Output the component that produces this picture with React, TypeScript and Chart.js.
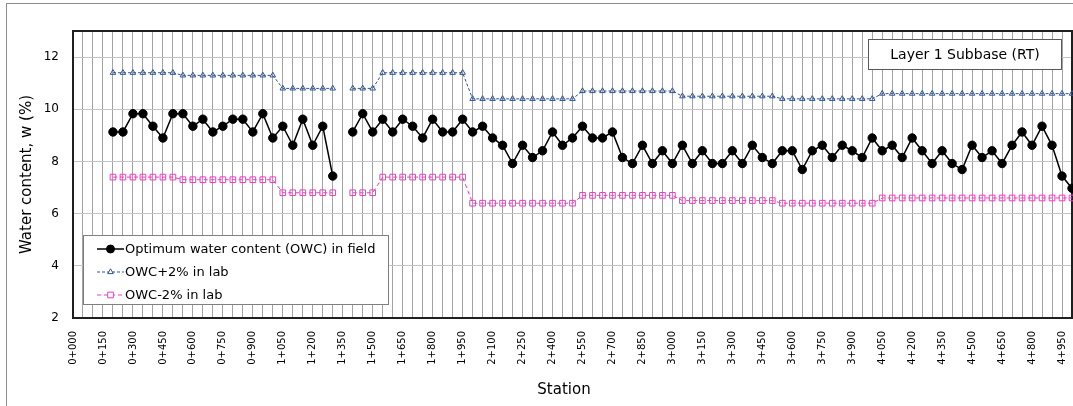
import React, { useEffect, useRef } from 'react';
import { Chart, registerables } from 'chart.js';

Chart.register(...registerables);

const STATIONS = [
  '0+000', '0+050', '0+100', '0+150', '0+200', '0+250', '0+300', '0+350', '0+400', '0+450',
  '0+500', '0+550', '0+600', '0+650', '0+700', '0+750', '0+800', '0+850', '0+900', '0+950',
  '1+000', '1+050', '1+100', '1+150', '1+200', '1+250', '1+300', '1+350', '1+400', '1+450',
  '1+500', '1+550', '1+600', '1+650', '1+700', '1+750', '1+800', '1+850', '1+900', '1+950',
  '2+000', '2+050', '2+100', '2+150', '2+200', '2+250', '2+300', '2+350', '2+400', '2+450',
  '2+500', '2+550', '2+600', '2+650', '2+700', '2+750', '2+800', '2+850', '2+900', '2+950',
  '3+000', '3+050', '3+100', '3+150', '3+200', '3+250', '3+300', '3+350', '3+400', '3+450',
  '3+500', '3+550', '3+600', '3+650', '3+700', '3+750', '3+800', '3+850', '3+900', '3+950',
  '4+000', '4+050', '4+100', '4+150', '4+200', '4+250', '4+300', '4+350', '4+400', '4+450',
  '4+500', '4+550', '4+600', '4+650', '4+700', '4+750', '4+800', '4+850', '4+900', '4+950',
  '5+000',
];

// Optimum water content (OWC) in field, one value per station (null = no test)
const OWC_FIELD = [
  null, null, null, null,
  9.13, 9.13, 9.83, 9.83, 9.35, 8.9, 9.83, 9.83, 9.35, 9.62,
  9.13, 9.35, 9.62, 9.62, 9.13, 9.83, 8.9, 9.35, 8.62, 9.62,
  8.62, 9.35, 7.44,
  null,
  9.13, 9.83, 9.13, 9.62, 9.13, 9.62, 9.35, 8.9, 9.62, 9.13,
  9.13, 9.62, 9.13, 9.35, 8.9, 8.62, 7.92, 8.62, 8.15, 8.41,
  9.13, 8.62, 8.9, 9.35, 8.9, 8.9, 9.13, 8.15, 7.92, 8.62,
  7.92, 8.41, 7.92, 8.62, 7.92, 8.41,
  7.92, 7.92, 8.41, 7.92, 8.62, 8.15, 7.92, 8.41, 8.41, 7.69,
  8.41, 8.62, 8.15, 8.62, 8.41, 8.15, 8.9, 8.41, 8.62, 8.15,
  8.9, 8.41, 7.92, 8.41, 7.92, 7.69, 8.62, 8.15, 8.41, 7.92,
  8.62, 9.13, 8.62, 9.35, 8.62, 7.44, 6.97,
];

// OWC + 2% in lab
const OWC_PLUS = [
  null, null, null, null,
  11.4, 11.4, 11.4, 11.4, 11.4, 11.4, 11.4,
  11.3, 11.3, 11.3, 11.3, 11.3, 11.3, 11.3, 11.3, 11.3, 11.3,
  10.8, 10.8, 10.8, 10.8, 10.8, 10.8,
  null,
  10.8, 10.8, 10.8,
  11.4, 11.4, 11.4, 11.4, 11.4, 11.4, 11.4, 11.4, 11.4,
  10.4, 10.4, 10.4, 10.4, 10.4, 10.4, 10.4, 10.4, 10.4, 10.4, 10.4,
  10.7, 10.7, 10.7, 10.7, 10.7, 10.7, 10.7, 10.7, 10.7, 10.7,
  10.5, 10.5, 10.5, 10.5, 10.5, 10.5, 10.5, 10.5, 10.5, 10.5,
  10.4, 10.4, 10.4, 10.4, 10.4, 10.4, 10.4, 10.4, 10.4, 10.4,
  10.6, 10.6, 10.6, 10.6, 10.6, 10.6, 10.6, 10.6, 10.6, 10.6,
  10.6, 10.6, 10.6, 10.6, 10.6, 10.6, 10.6, 10.6, 10.6, 10.6,
];

// OWC - 2% in lab
const OWC_MINUS = [
  null, null, null, null,
  7.4, 7.4, 7.4, 7.4, 7.4, 7.4, 7.4,
  7.3, 7.3, 7.3, 7.3, 7.3, 7.3, 7.3, 7.3, 7.3, 7.3,
  6.8, 6.8, 6.8, 6.8, 6.8, 6.8,
  null,
  6.8, 6.8, 6.8,
  7.4, 7.4, 7.4, 7.4, 7.4, 7.4, 7.4, 7.4, 7.4,
  6.4, 6.4, 6.4, 6.4, 6.4, 6.4, 6.4, 6.4, 6.4, 6.4, 6.4,
  6.7, 6.7, 6.7, 6.7, 6.7, 6.7, 6.7, 6.7, 6.7, 6.7,
  6.5, 6.5, 6.5, 6.5, 6.5, 6.5, 6.5, 6.5, 6.5, 6.5,
  6.4, 6.4, 6.4, 6.4, 6.4, 6.4, 6.4, 6.4, 6.4, 6.4,
  6.6, 6.6, 6.6, 6.6, 6.6, 6.6, 6.6, 6.6, 6.6, 6.6,
  6.6, 6.6, 6.6, 6.6, 6.6, 6.6, 6.6, 6.6, 6.6, 6.6,
];

const SERIES_NAMES = [
  'Optimum water content (OWC) in field',
  'OWC+2% in lab',
  'OWC-2% in lab',
];
const Y_MIN = 2;
const Y_MAX = 13;
const Y_STEP = 2;
const X_TITLE = 'Station';
const Y_TITLE = 'Water content, w (%)';
const NOTE = 'Layer 1 Subbase (RT)';

const FONT = '"DejaVu Sans", Verdana, sans-serif';
const BLUE = '#2F5597';
const PINK = '#FF33CC';

function drawMarker(ctx: CanvasRenderingContext2D, style: string, x: number, y: number, r: number, stroke: string, fill: string | null) {
  ctx.save();
  ctx.setLineDash([]);
  ctx.strokeStyle = stroke;
  ctx.lineWidth = 1;
  ctx.beginPath();
  if (style === 'circle') {
    ctx.arc(x, y, r, 0, Math.PI * 2);
  } else if (style === 'triangle') {
    ctx.moveTo(x, y - r);
    ctx.lineTo(x + r * 0.866, y + r * 0.5);
    ctx.lineTo(x - r * 0.866, y + r * 0.5);
    ctx.closePath();
  } else {
    const s = r * Math.SQRT1_2;
    ctx.rect(x - s, y - s, 2 * s, 2 * s);
  }
  if (fill) {
    ctx.fillStyle = fill;
    ctx.fill();
  }
  ctx.stroke();
  ctx.restore();
}

const decorPlugin = {
  id: 'decor',
  beforeDraw(chart: any) {
    const ctx = chart.ctx as CanvasRenderingContext2D;
    ctx.save();
    ctx.fillStyle = '#ffffff';
    ctx.fillRect(0, 0, chart.width, chart.height);
    ctx.strokeStyle = '#8c8c8c';
    ctx.lineWidth = 1;
    ctx.strokeRect(6.5, 3.5, chart.width + 100, chart.height + 100);
    ctx.restore();
  },
  beforeDatasetsDraw(chart: any) {
    const ctx = chart.ctx as CanvasRenderingContext2D;
    const a = chart.chartArea;
    ctx.save();
    ctx.strokeStyle = '#1f1f1f';
    ctx.lineWidth = 2;
    ctx.strokeRect(Math.round(a.left), Math.round(a.top), Math.round(a.right) - Math.round(a.left), Math.round(a.bottom) - Math.round(a.top));
    ctx.restore();
  },
  afterDatasetsDraw(chart: any) {
    const ctx = chart.ctx as CanvasRenderingContext2D;
    const a = chart.chartArea;
    ctx.save();

    // Legend box
    const lx = 83.5, ly = 235.5, lw = 305, lh = 69;
    ctx.fillStyle = '#ffffff';
    ctx.fillRect(lx, ly, lw, lh);
    ctx.strokeStyle = '#7f7f7f';
    ctx.lineWidth = 1;
    ctx.strokeRect(lx, ly, lw, lh);
    ctx.font = `13px ${FONT}`;
    ctx.textBaseline = 'middle';
    ctx.textAlign = 'left';
    chart.data.datasets.forEach((ds: any, i: number) => {
      const y = 249 + i * 23;
      ctx.save();
      ctx.strokeStyle = ds.borderColor;
      ctx.lineWidth = ds.borderWidth;
      ctx.setLineDash(ds.borderDash || []);
      ctx.beginPath();
      ctx.moveTo(97, y);
      ctx.lineTo(124, y);
      ctx.stroke();
      ctx.restore();
      drawMarker(ctx, ds.pointStyle, 110.5, y, i === 0 ? 4 : ds.pointRadius, ds.pointBorderColor, i === 0 ? '#000' : '#ffffff');
      ctx.fillStyle = '#000000';
      ctx.fillText(ds.label, 125, y + 0.5);
    });

    // Note box
    const nx = 868.5, ny = 39.5, nw = 193, nh = 30;
    ctx.fillStyle = '#ffffff';
    ctx.fillRect(nx, ny, nw, nh);
    ctx.strokeStyle = '#595959';
    ctx.strokeRect(nx, ny, nw, nh);
    ctx.fillStyle = '#000000';
    ctx.font = `14px ${FONT}`;
    ctx.textAlign = 'center';
    ctx.fillText(NOTE, nx + nw / 2, ny + nh / 2 + 1);

    // Axis titles
    ctx.font = `15px ${FONT}`;
    ctx.fillText(X_TITLE, 564, 390);
    ctx.save();
    ctx.translate(27, (a.top + a.bottom) / 2);
    ctx.rotate(-Math.PI / 2);
    ctx.fillText(Y_TITLE, 0, 0);
    ctx.restore();

    ctx.restore();
  },
};

export default function App() {
  const canvasRef = useRef<HTMLCanvasElement | null>(null);

  useEffect(() => {
    const canvas = canvasRef.current;
    if (!canvas) return;
    const chart = new Chart(canvas, {
      type: 'line',
      data: {
        labels: STATIONS,
        datasets: [
          {
            label: SERIES_NAMES[0],
            data: OWC_FIELD,
            borderColor: '#000000',
            backgroundColor: '#000000',
            borderWidth: 1.5,
            pointStyle: 'circle',
            pointRadius: 4.2,
            pointBackgroundColor: '#000000',
            pointBorderColor: '#000000',
            pointBorderWidth: 1,
            tension: 0,
            spanGaps: false,
          },
          {
            label: SERIES_NAMES[1],
            data: OWC_PLUS,
            borderColor: BLUE,
            backgroundColor: 'transparent',
            borderWidth: 1,
            borderDash: [3, 2],
            pointStyle: 'triangle',
            pointRadius: 3.2,
            pointBackgroundColor: 'transparent',
            pointBorderColor: BLUE,
            pointBorderWidth: 1,
            tension: 0,
            spanGaps: false,
          },
          {
            label: SERIES_NAMES[2],
            data: OWC_MINUS,
            borderColor: PINK,
            backgroundColor: 'transparent',
            borderWidth: 1,
            borderDash: [4, 3],
            pointStyle: 'rect',
            pointRadius: 4,
            pointBackgroundColor: 'transparent',
            pointBorderColor: PINK,
            pointBorderWidth: 1,
            tension: 0,
            spanGaps: false,
          },
        ],
      },
      options: {
        responsive: false,
        maintainAspectRatio: false,
        animation: false,
        devicePixelRatio: 1,
        layout: { autoPadding: false, padding: { left: 0, top: 31, right: 1, bottom: 0 } },
        plugins: {
          legend: { display: false },
          tooltip: { enabled: false },
          title: { display: false },
        },
        scales: {
          x: {
            type: 'category',
            offset: false,
            border: { display: false },
            grid: { color: '#a3a3a3', lineWidth: 1, drawTicks: false },
            ticks: {
              autoSkip: false,
              maxRotation: 90,
              minRotation: 90,
              padding: 13,
              color: '#000000',
              font: { family: FONT, size: 10 },
              callback: (_v: any, i: number) => (i % 3 === 0 ? STATIONS[i] : ''),
            },
            afterFit: (s: any) => {
              s.height = 88;
              s.paddingLeft = 0;
              s.paddingRight = 0;
            },
          },
          y: {
            type: 'linear',
            min: Y_MIN,
            max: Y_MAX,
            border: { display: false },
            grid: { color: '#c4c4c4', lineWidth: 1, drawTicks: false },
            ticks: {
              stepSize: Y_STEP,
              includeBounds: false,
              padding: 14,
              color: '#000000',
              font: { family: FONT, size: 12 },
            },
            afterFit: (s: any) => {
              s.width = 73;
              s.paddingTop = 0;
              s.paddingBottom = 0;
            },
          },
        },
      },
      plugins: [decorPlugin],
    } as any);
    return () => chart.destroy();
  }, []);

  return (
    <div style={{ position: 'absolute', left: 0, top: 0, width: 1073, height: 406, background: '#fff' }}>
      <canvas ref={canvasRef} width={1073} height={406} style={{ display: 'block', width: 1073, height: 406 }} />
    </div>
  );
}
